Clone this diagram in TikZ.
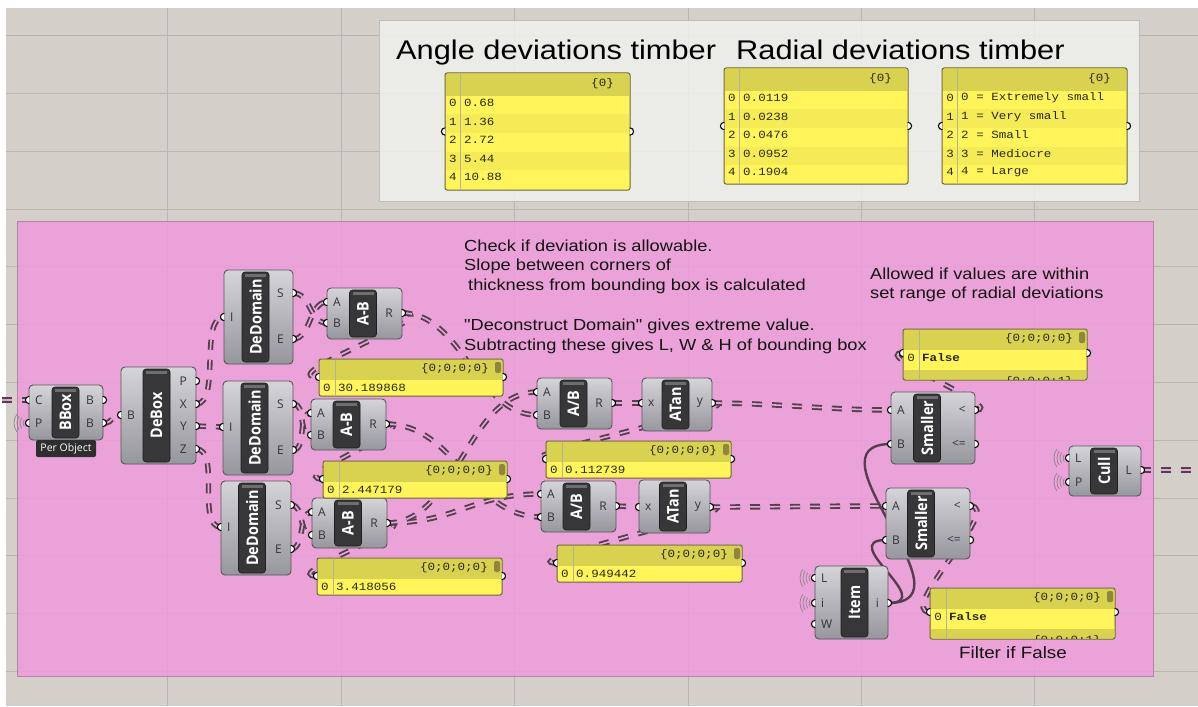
\documentclass[tikz,border=0pt]{standalone}
\usepackage{fontspec}
\setmainfont{Liberation Sans}
\newfontfamily\ghtext[FakeStretch=1.14]{Liberation Sans}
\newfontfamily\ghmono[FakeStretch=1.14]{Liberation Mono}
\newfontfamily\ghport{Open Sans}
\newfontfamily\ghnick[FakeStretch=0.9]{Open Sans}
\usetikzlibrary{calc}

\definecolor{canvasgray}{RGB}{212,207,201}
\definecolor{gridgray}{RGB}{186,181,176}
\definecolor{grpgrayfill}{RGB}{240,240,237}
\definecolor{grpgrayline}{RGB}{190,188,184}
\definecolor{grppinkfill}{RGB}{240,155,219}
\definecolor{grppinkline}{RGB}{185,128,170}
\definecolor{bodytop}{RGB}{212,212,217}
\definecolor{bodybot}{RGB}{150,150,157}
\definecolor{bodyline}{RGB}{85,85,90}
\definecolor{barfill}{RGB}{55,55,57}
\definecolor{barline}{RGB}{30,30,30}
\definecolor{barcap}{RGB}{110,110,112}
\definecolor{portgray}{RGB}{50,50,55}
\definecolor{wiredark}{RGB}{84,62,80}
\definecolor{wirein}{RGB}{232,168,214}
\definecolor{panelyel}{RGB}{255,245,90}
\definecolor{panelhead}{RGB}{217,209,80}
\definecolor{panelrow}{RGB}{244,235,86}
\definecolor{panelline}{RGB}{105,100,60}
\definecolor{panelthumb}{RGB}{140,135,60}
\definecolor{paneltext}{RGB}{40,40,20}
\definecolor{wavegray}{RGB}{140,132,142}

\pgfdeclarelayer{canvaslayer}
\pgfdeclarelayer{wirelayer}
\pgfsetlayers{canvaslayer,wirelayer,main}

% component body and its dark name bar
\newcommand{\ghbox}[7]{%
  \draw[compbody] (#2,#3) rectangle (#4,#5);
  \node[compbar, minimum width={#5-#3-4}] (#1) at (#6,{(#3+#5)/2}) {#7};
  \fill[barcap] ({#6-10.5},{#3+4}) rectangle ({#6+10.5},{#3+7});
}
% input and output grips
\newcommand{\ghin}[4]{%
  \coordinate (#1) at ({#2},{#3});
  \filldraw[grip] ({#2},{#3-3.6}) arc[start angle=90, end angle=270, radius=3.6pt];
  \node[portlbl, anchor=west] at ({#2+6},{#3}) {#4};
}
\newcommand{\ghout}[4]{%
  \coordinate (#1) at ({#2},{#3});
  \filldraw[grip] ({#2},{#3-3.6}) arc[start angle=90, end angle=-90, radius=3.6pt];
  \node[portlbl, anchor=east] at ({#2-9},{#3}) {#4};
}
% radio rings left of a grip
\newcommand{\ghwave}[2]{%
  \foreach \rad in {6,9,12,15}
    \draw[wave] ({#1+\rad*cos(145)},{#2-\rad*sin(145)}) arc[start angle=145, end angle=215, radius=\rad pt];
}
% panel with a single value
\newcommand{\ghvalue}[5]{%
  \draw[panelbody] (#2,#3) rectangle (#4,#3+37);
  \fill[panelhead] (#2+1,#3+1) rectangle (#4-1,#3+21);
  \draw[panelsep] (#2+16,#3+1) -- (#2+16,#3+36);
  \fill[panelthumb, rounded corners=2pt] (#4-8,#3+3) rectangle (#4-2,#3+14);
  \node[paneltxt, anchor=east] at (#4-14,#3+9.5) {\{0;0;0;0\}};
  \node[paneltxt] at (#2+8,#3+28.5) {0};
  \node[paneltxt, anchor=west] (#1) at (#2+19,#3+28.5) {#5};
  \ghin{#1-in}{#2}{#3+18}{}
  \ghout{#1-out}{#4}{#3+18}{}
}
% panel showing a boolean, next branch cut off
\newcommand{\ghbool}[4]{%
  \draw[panelbody] (#2,#3) rectangle (#4,#3+51);
  \fill[panelhead] (#2+1,#3+1) rectangle (#4-1,#3+21);
  \fill[panelhead] (#2+1,#3+41) rectangle (#4-1,#3+50);
  \draw[panelsep] (#2+16,#3+1) -- (#2+16,#3+50);
  \fill[panelthumb, rounded corners=2pt] (#4-8,#3+3) rectangle (#4-2,#3+14);
  \node[paneltxt, anchor=east] at (#4-14,#3+9.5) {\{0;0;0;0\}};
  \node[paneltxt] at (#2+8,#3+29) {0};
  \node[paneltxt, anchor=west, font=\ghmono\bfseries\fontsize{11}{11}\selectfont] (#1) at (#2+19,#3+29) {False};
  \begin{scope}
    \clip (#2,#3+41) rectangle (#4,#3+50);
    \node[paneltxt, anchor=east] at (#4-14,#3+53) {\{0;0;0;1\}};
  \end{scope}
  \ghin{#1-in}{#2}{#3+24}{}
  \ghout{#1-out}{#4}{#3+24}{}
}
% panel with a list of entries
\newcommand{\ghlist}[6]{%
  \draw[panelbody] (#2,#3) rectangle (#4,#5);
  \fill[panelhead] (#2+1,#3+1) rectangle (#4-1,#3+23);
  \foreach \ent [count=\k from 0] in {#6}{
    \ifodd\k\relax
      \fill[panelrow] (#2+1,{#3+23+18.5*\k}) rectangle (#4-1,{#3+23+18.5*(\k+1)});
    \fi
    \node[paneltxt] at (#2+8,{#3+30+18.5*\k}) {\k};
    \node[paneltxt, anchor=west] at (#2+19,{#3+30+18.5*\k}) {\ent};
  }
  \draw[panelsep] (#2+15,#3+1) -- (#2+15,#5-1);
  \node[paneltxt, anchor=east] (#1) at (#4-16,#3+11) {\{0\}};
  \ghin{#1-in}{#2}{(#3+#5)/2}{}
  \ghout{#1-out}{#4}{(#3+#5)/2}{}
}

\begin{document}
\begin{tikzpicture}[
    x=1pt,
    y=-1pt,
    line cap=round,
    line join=round,
    compbody/.style={draw=bodyline, line width=0.9pt, rounded corners=4pt,
      top color=bodytop, bottom color=bodybot},
    compbar/.style={rotate=90, fill=barfill, draw=barline, line width=0.6pt,
      rounded corners=3pt, minimum height=27pt, inner sep=0pt, text=white,
      font=\ghnick\bfseries\fontsize{16}{16}\selectfont},
    portlbl/.style={inner sep=0pt, text=portgray, font=\ghport\fontsize{12}{12}\selectfont},
    grip/.style={fill=white, draw=black, line width=1.1pt},
    wave/.style={draw=wavegray, line width=0.7pt},
    tagbox/.style={fill=black!82, text=white, rounded corners=2pt, minimum width=60pt,
      minimum height=17pt, inner sep=0pt, font=\ghport\fontsize{10.5}{10.5}\selectfont},
    wirelist/.style={draw=wiredark, line width=1.9pt, double=wirein, double distance=1.6pt,
      dash pattern=on 10pt off 10pt},
    wireitem/.style={draw=wiredark, line width=2.4pt},
    panelbody/.style={fill=panelyel, draw=panelline, line width=1pt, rounded corners=2pt},
    panelsep/.style={draw=panelline!50, line width=0.5pt},
    paneltxt/.style={inner sep=0pt, text=paneltext, font=\ghmono\fontsize{11}{11}\selectfont},
    title/.style={inner sep=0pt, font=\ghtext\fontsize{27}{27}\selectfont},
    note/.style={inner sep=0pt, align=left, text=black!92, font=\ghtext\fontsize{16}{19.5}\selectfont},
    gridline/.style={draw=gridgray, line width=0.8pt},
    grpgray/.style={fill=grpgrayfill, fill opacity=0.85, draw=grpgrayline, line width=1pt},
    grppink/.style={fill=grppinkfill, fill opacity=0.85, draw=grppinkline, line width=1pt}
  ]
  \useasboundingbox (0,0) rectangle (1198,706);

  %------------------------------------------------------------------
  % Canvas, grid and groups
  %------------------------------------------------------------------
  \begin{pgfonlayer}{canvaslayer}
    \fill[white] (0,0) rectangle (1198,706);
    \fill[canvasgray] (6,8) rectangle (1198,706);
    \foreach \gx in {167,341,514,688,861,1034}
      \draw[gridline] (\gx,8) -- (\gx,706);
    \foreach \k in {0,...,11}
      \draw[gridline] (6,{35.5+57.8*\k}) -- (1198,{35.5+57.8*\k});
    \draw[grpgray] (379,21) rectangle (1139,201);
    \draw[grppink] (17,221) rectangle (1153,676);
  \end{pgfonlayer}

  %------------------------------------------------------------------
  % Titles and notes
  %------------------------------------------------------------------
  \node[title, anchor=base west] (ttl-angle)  at (396,60) {Angle deviations timber};
  \node[title, anchor=base west] (ttl-radial) at (736,60) {Radial deviations timber};

  \node[note, anchor=north west] (note-check) at (464,239.5)
    {Check if deviation is allowable.\\Slope between corners of\\\hspace*{4pt}thickness from bounding box is calculated};
  \node[note, anchor=north west] (note-domain) at (464,319)
    {"Deconstruct Domain" gives extreme value.\\Subtracting these gives L, W \& H of bounding box};
  \node[note, anchor=north west] (note-range) at (870,267.5)
    {Allowed if values are within\\set range of radial deviations};
  \node[note, font=\ghtext\fontsize{16.5}{16.5}\selectfont] (note-filter) at (1013,653) {Filter if False};

  %------------------------------------------------------------------
  % Deviation lists
  %------------------------------------------------------------------
  \ghlist{angles}{445}{73}{630}{190}{0.68,1.36,2.72,5.44,10.88}
  \ghlist{radial}{724}{68}{908}{184}{0.0119,0.0238,0.0476,0.0952,0.1904}
  \ghlist{classes}{942}{68}{1127}{184}{0 = Extremely small,1 = Very small,2 = Small,3 = Mediocre,4 = Large}

  %------------------------------------------------------------------
  % Bounding box and domains
  %------------------------------------------------------------------
  \ghbox{bbox}{29}{385}{103}{440}{65.5}{BBox}
  \ghin{bbox-C}{29}{400}{C}
  \ghin{bbox-P}{29}{423}{P}
  \ghout{bbox-B1}{103}{400}{B}
  \ghout{bbox-B2}{103}{423}{B}
  \ghwave{29}{423}
  \node[tagbox] (bbox-tag) at (66,448.5) {Per Object};

  \ghbox{debox}{121}{367}{196}{464}{156.5}{DeBox}
  \ghin{debox-B}{121}{415}{B}
  \ghout{debox-P}{196}{381}{P}
  \ghout{debox-X}{196}{404}{X}
  \ghout{debox-Y}{196}{426}{Y}
  \ghout{debox-Z}{196}{449}{Z}

  \ghbox{ddom1}{224}{270}{293}{364}{255.5}{DeDomain}
  \ghin{ddom1-I}{224}{317}{I}
  \ghout{ddom1-S}{293}{293}{S}
  \ghout{ddom1-E}{293}{339}{E}

  \ghbox{ddom2}{223}{381}{293}{475}{254.5}{DeDomain}
  \ghin{ddom2-I}{223}{427}{I}
  \ghout{ddom2-S}{293}{404}{S}
  \ghout{ddom2-E}{293}{450}{E}

  \ghbox{ddom3}{221}{481}{291}{575}{252}{DeDomain}
  \ghin{ddom3-I}{221}{527}{I}
  \ghout{ddom3-S}{291}{505}{S}
  \ghout{ddom3-E}{291}{549}{E}

  %------------------------------------------------------------------
  % Lengths, ratios and angles
  %------------------------------------------------------------------
  \ghbox{sub1}{327}{288}{402}{339}{363}{A-B}
  \ghin{sub1-A}{327}{302}{A}
  \ghin{sub1-B}{327}{323}{B}
  \ghout{sub1-R}{402}{313}{R}

  \ghbox{sub2}{311}{399}{386}{450}{346.5}{A-B}
  \ghin{sub2-A}{311}{413}{A}
  \ghin{sub2-B}{311}{435}{B}
  \ghout{sub2-R}{386}{424}{R}

  \ghbox{sub3}{312}{498}{387}{548}{348}{A-B}
  \ghin{sub3-A}{312}{512}{A}
  \ghin{sub3-B}{312}{535}{B}
  \ghout{sub3-R}{387}{523}{R}

  \ghvalue{val1}{319}{359}{503}{30.189868}
  \ghvalue{val2}{323}{461}{507}{2.447179}
  \ghvalue{val3}{317}{558}{502}{3.418056}

  \ghbox{div1}{537}{378}{612}{429}{573.5}{A/B}
  \ghin{div1-A}{537}{392}{A}
  \ghin{div1-B}{537}{415}{B}
  \ghout{div1-R}{612}{403}{R}

  \ghbox{atan1}{642}{378}{712}{431}{675.5}{ATan}
  \ghin{atan1-x}{642}{403}{x}
  \ghout{atan1-y}{712}{403}{y}

  \ghbox{div2}{541}{481}{616}{532}{576.5}{A/B}
  \ghin{div2-A}{541}{494}{A}
  \ghin{div2-B}{541}{517}{B}
  \ghout{div2-R}{616}{506}{R}

  \ghbox{atan2}{639}{480}{710}{533}{673}{ATan}
  \ghin{atan2-x}{639}{507}{x}
  \ghout{atan2-y}{710}{507}{y}

  \ghvalue{val4}{546}{441}{731}{0.112739}
  \ghvalue{val5}{557}{545}{742}{0.949442}

  %------------------------------------------------------------------
  % Comparison and culling
  %------------------------------------------------------------------
  \ghbox{less1}{891}{392}{975}{464}{927}{Smaller}
  \ghin{less1-A}{891}{410}{A}
  \ghin{less1-B}{891}{444}{B}
  \ghout{less1-lt}{975}{410}{<}
  \ghout{less1-le}{975}{444}{<=}

  \ghbox{less2}{886}{488}{970}{559}{921}{Smaller}
  \ghin{less2-A}{886}{506}{A}
  \ghin{less2-B}{886}{540}{B}
  \ghout{less2-lt}{970}{506}{<}
  \ghout{less2-le}{970}{540}{<=}

  \ghbox{item}{815}{566}{888}{639}{854.5}{Item}
  \ghin{item-L}{815}{578}{L}
  \ghin{item-i}{815}{603}{i}
  \ghin{item-W}{815}{624}{W}
  \ghout{item-o}{888}{603}{i}
  \ghwave{815}{578}
  \ghwave{815}{603}

  \ghbox{cull}{1069}{446}{1141}{496}{1104}{Cull}
  \ghin{cull-L}{1069}{458}{L}
  \ghin{cull-P}{1069}{482}{P}
  \ghout{cull-o}{1141}{470}{L}
  \ghwave{1069}{458}
  \ghwave{1069}{482}

  \ghbool{flag1}{903}{329}{1087}
  \ghbool{flag2}{930}{588}{1115}

  \coordinate (inlet)  at (2,400);
  \coordinate (outlet) at (1198,470);

  %------------------------------------------------------------------
  % Wires
  %------------------------------------------------------------------
  \begin{pgfonlayer}{wirelayer}
    \draw[wirelist] (inlet) -- (bbox-C);
    \draw[wirelist] (bbox-B2) .. controls +(12,0) and +(-12,0) .. (debox-B);
    \draw[wirelist] (debox-X) .. controls +(25,0) and +(-25,0) .. (ddom1-I);
    \draw[wirelist] (debox-Y) -- (ddom2-I);
    \draw[wirelist] (debox-Z) .. controls +(25,0) and +(-25,0) .. (ddom3-I);

    \draw[wirelist] (ddom1-S) .. controls +(18,0) and +(-18,0) .. (sub1-B);
    \draw[wirelist] (ddom1-E) .. controls +(18,0) and +(-18,0) .. (sub1-A);
    \draw[wirelist] (ddom2-S) .. controls +(14,0) and +(-14,0) .. (sub2-B);
    \draw[wirelist] (ddom2-E) .. controls +(14,0) and +(-14,0) .. (sub2-A);
    \draw[wirelist] (ddom3-S) .. controls +(14,0) and +(-14,0) .. (sub3-B);
    \draw[wirelist] (ddom3-E) .. controls +(14,0) and +(-14,0) .. (sub3-A);

    \draw[wirelist] (sub1-R) .. controls +(50,0) and +(-50,0) .. (val1-in);
    \draw[wirelist] (sub2-R) .. controls +(40,0) and +(-40,0) .. (val2-in);
    \draw[wirelist] (sub3-R) .. controls +(40,0) and +(-40,0) .. (val3-in);
    \draw[wirelist] (sub1-R) .. controls +(60,0) and +(-60,0) .. (div1-B);
    \draw[wirelist] (sub2-R) .. controls +(70,0) and +(-70,0) .. (div2-B);
    \draw[wirelist] (sub3-R) .. controls +(70,0) and +(-70,0) .. (div2-A);
    \draw[wirelist] (sub3-R) .. controls +(70,0) and +(-70,0) .. (div1-A);

    \draw[wirelist] (div1-R) -- (atan1-x);
    \draw[wirelist] (div2-R) -- (atan2-x);
    \draw[wirelist] (atan1-y) .. controls +(50,0) and +(-50,0) .. (val4-in);
    \draw[wirelist] (atan2-y) .. controls +(50,0) and +(-50,0) .. (val5-in);
    \draw[wirelist] (atan1-y) .. controls +(60,0) and +(-60,0) .. (less1-A);
    \draw[wirelist] (atan2-y) .. controls +(60,0) and +(-60,0) .. (less2-A);

    \draw[wirelist] (less1-lt) .. controls +(35,0) and +(-35,0) .. (flag1-in);
    \draw[wirelist] (less2-lt) .. controls +(35,0) and +(-35,0) .. (flag2-in);
    \draw[wireitem] (item-o) .. controls +(90,0) and +(-90,0) .. (less1-B);
    \draw[wireitem] (item-o) .. controls +(50,0) and +(-50,0) .. (less2-B);

    \draw[wirelist] (cull-o) -- (outlet);
  \end{pgfonlayer}

\end{tikzpicture}
\end{document}
